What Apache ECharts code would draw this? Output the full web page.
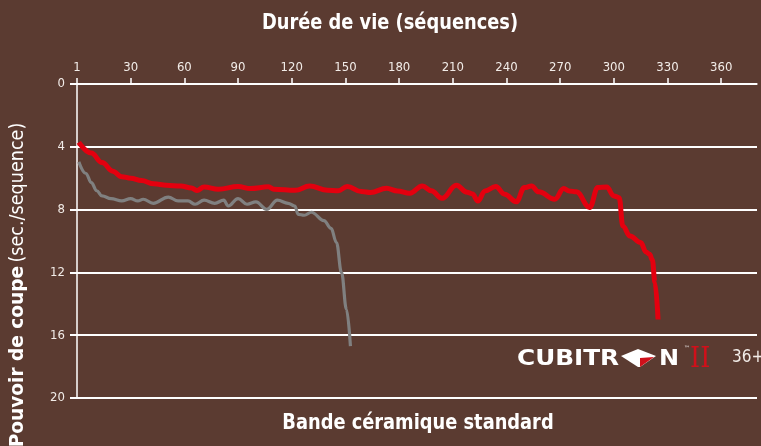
<!DOCTYPE html>
<html lang="fr">
<head>
<meta charset="utf-8">
<title>Pouvoir de coupe</title>
<script src="https://cdn.jsdelivr.net/npm/echarts@6/dist/echarts.min.js"></script>
<style>
  html, body { margin: 0; padding: 0; background: #5b3b31; }
  #main { width: 761px; height: 446px; }
</style>
</head>
<body>
<div id="main"></div>
<script type="text/javascript">
// sequences (x) / sec. par sequence (y)
var cubitronData = [[1,3.72],[8,4.4],[14,5.0],[20,5.55],[25,5.9],[30,6.0],[36,6.15],[43,6.36],[50,6.45],[58,6.5],
    [64,6.62],[67,6.78],[71,6.56],[79,6.7],[90,6.53],[97,6.66],[107,6.55],[110,6.7],[122,6.77],[130,6.5],
    [140,6.77],[146,6.8],[151,6.53],[159,6.85],[164,6.91],[173,6.64],[179,6.81],[186,6.96],[193,6.49],[198,6.8],
    [204,7.28],[212,6.45],[218,6.9],[221,7.0],[224,7.45],[228,6.81],[234,6.53],[239,7.02],[245.5,7.5],[250,6.6],
    [254,6.5],[258,6.87],[267,7.34],[272,6.66],[275,6.81],[279,6.87],[286.5,7.87],[291,6.6],[296,6.56],[300,7.13],
    [303,7.24],[305,9.04],[309,9.68],[315,10.1],[318,10.7],[320,10.85],[321.5,11.2],[323,12.65],[324.7,15.0]];
var standardData = [[1,4.96],[5,5.7],[8,6.28],[11,6.8],[14,7.13],[19,7.3],[25,7.45],[30,7.3],[34,7.45],[37,7.34],
    [42.6,7.6],[51,7.2],[56.5,7.45],[62,7.45],[66,7.66],[71,7.4],[77,7.6],[82,7.4],[84.5,7.77],[90,7.3],
    [95,7.66],[100,7.51],[106,7.98],[112,7.4],[118,7.6],[121.7,7.77],[123.6,8.3],[127,8.36],[131,8.17],[138,8.7],
    [142,9.2],[145,10.1],[147.8,12.0],[150.6,14.36],[152.8,16.7]];
var xTicks = [0,30,60,90,120,150,180,210,240,270,300,330,360];

var narrow = "'Liberation Sans Narrow', 'DejaVu Sans Condensed', 'Roboto', sans-serif";
var myChart = echarts.init(document.getElementById('main'));
var option = {
    backgroundColor: '#5b3b31',
    animation: false,
    grid: { left: 77, right: 4, top: 84, bottom: 48 },
    xAxis: {
        type: 'value', position: 'top', min: 0, max: 380,
        axisLine: { lineStyle: { color: '#fff', width: 1.5 } },
        axisTick: { customValues: xTicks, length: 6, lineStyle: { color: '#fff', width: 1.5 } },
        axisLabel: {
            customValues: xTicks, margin: 10, color: '#f2ece8', fontSize: 13, fontFamily: narrow,
            formatter: function (v) { return v === 0 ? '1' : String(v); }
        },
        splitLine: { show: false }
    },
    yAxis: {
        type: 'value', inverse: true, min: 0, max: 20, interval: 4,
        axisLine: { show: true, lineStyle: { color: '#fff', width: 1.5 } },
        axisTick: { show: true, length: 7, lineStyle: { color: '#fff', width: 2 } },
        axisLabel: { margin: 12, color: '#f2ece8', fontSize: 13, fontFamily: narrow,
                     verticalAlign: 'middle', padding: [0, 0, 9, 0] },
        splitLine: { lineStyle: { color: '#fff', width: 2 } }
    },
    series: [
        {
            name: 'Bande céramique standard', type: 'line', data: standardData,
            smooth: 0.4, smoothMonotone: 'x', symbol: 'none',
            lineStyle: { color: '#808080', width: 3.2 }
        },
        {
            name: 'Cubitron II', type: 'line', data: cubitronData,
            smooth: 0.4, smoothMonotone: 'x', symbol: 'none',
            lineStyle: { color: '#e3000f', width: 5 }
        }
    ],
    graphic: [
        { type: 'text', x: 390, y: 23, scaleX: 0.9,
          style: { text: 'Durée de vie (séquences)', fill: '#fff', font: "bold 22px " + narrow, align: 'center', verticalAlign: 'middle' } },
        { type: 'text', x: 418, y: 423, scaleX: 0.9,
          style: { text: 'Bande céramique standard', fill: '#fff', font: "bold 22px " + narrow, align: 'center', verticalAlign: 'middle' } },
        { type: 'text', x: 18, y: 285, rotation: Math.PI / 2, scaleX: 1.03,
          style: {
              text: '{b|Pouvoir de coupe} {r|(sec./sequence)}', align: 'center', verticalAlign: 'middle',
              rich: {
                  b: { fill: '#fff', font: "bold 20px " + narrow },
                  r: { fill: '#fff', font: "19px " + narrow }
              }
          } },
        // logo
        { type: 'text', x: 517, y: 359, scaleX: 1.03, scaleY: 0.92,
          style: { text: 'CUBITR', fill: '#fff', font: "bold 24px 'DejaVu Sans'", verticalAlign: 'middle' } },
        { type: 'polygon', shape: { points: [[621,356],[638,349],[656,356],[640,367],[638,367]] }, style: { fill: '#fff' } },
        { type: 'polygon', shape: { points: [[640,358],[654,357],[640,367]] }, style: { fill: '#d0101a' } },
        { type: 'text', x: 659, y: 359, scaleY: 0.92,
          style: { text: 'N', fill: '#fff', font: "bold 24px 'DejaVu Sans'", verticalAlign: 'middle' } },
        { type: 'text', x: 684, y: 348,
          style: { text: '™', fill: '#fff', font: "6px 'DejaVu Sans'", verticalAlign: 'middle' } },
        { type: 'text', x: 690, y: 360, scaleX: 0.95,
          style: { text: 'II', fill: '#d0101a', font: "27px 'DejaVu Serif'", verticalAlign: 'middle' } },
        { type: 'text', x: 732, y: 358,
          style: { text: '36+', fill: '#f2ece8', font: "17px " + narrow, verticalAlign: 'middle' } }
    ]
};
myChart.setOption(option);
</script>
</body>
</html>
